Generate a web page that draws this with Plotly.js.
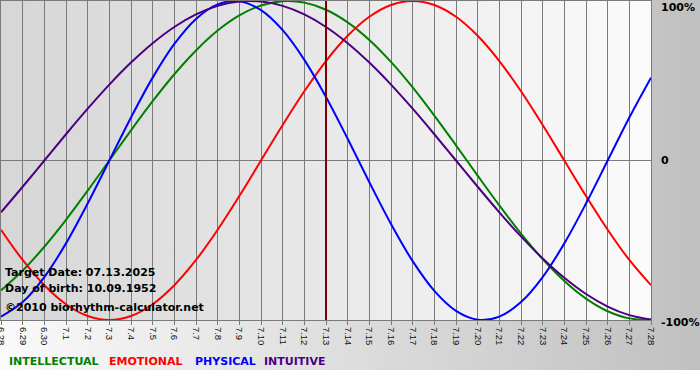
<!DOCTYPE html>
<html><head><meta charset="utf-8">
<script src="https://cdn.plot.ly/plotly-3.0.1.min.js"></script>
<style>
html,body{margin:0;padding:0;background:#fff;}
#wrap{position:relative;width:700px;height:380px;overflow:hidden;background:#fff;}
#outer{position:absolute;left:0;top:0;width:700px;height:370px;background:linear-gradient(to right,#fafafa,#c0c0c0);}
#inner{position:absolute;left:1px;top:1px;width:650px;height:319px;background:linear-gradient(to right,#d6d6d6,#fbfbfb);}
#chart{position:absolute;left:0;top:0;width:700px;height:380px;}
</style></head><body>
<div id="wrap"><div id="outer"></div><div id="inner"></div><div id="chart"></div></div>
<script>
const days = ['6.28','6.29','6.30','7.1','7.2','7.3','7.4','7.5','7.6','7.7','7.8','7.9','7.10','7.11','7.12','7.13','7.14','7.15','7.16','7.17','7.18','7.19','7.20','7.21','7.22','7.23','7.24','7.25','7.26','7.27','7.28'];
const intellectual = [-0.8146,-0.6901,-0.5406,-0.3717,-0.1893,0,0.1893,0.3717,0.5406,0.6901,0.8146,0.9096,0.9718,0.9989,0.9898,0.9450,0.8660,0.7557,0.6182,0.4582,0.2817,0.0951,-0.0951,-0.2817,-0.4582,-0.6182,-0.7557,-0.8660,-0.9450,-0.9898,-0.9989];
const emotional = [-0.4339,-0.6235,-0.7818,-0.9010,-0.9749,-1,-0.9749,-0.9010,-0.7818,-0.6235,-0.4339,-0.2225,0,0.2225,0.4339,0.6235,0.7818,0.9010,0.9749,1,0.9749,0.9010,0.7818,0.6235,0.4339,0.2225,0,-0.2225,-0.4339,-0.6235,-0.7818];
const physical = [-0.9791,-0.8879,-0.7308,-0.5196,-0.2698,0,0.2698,0.5196,0.7308,0.8879,0.9791,0.9977,0.9423,0.8170,0.6311,0.3984,0.1362,-0.1362,-0.3984,-0.6311,-0.8170,-0.9423,-0.9977,-0.9791,-0.8879,-0.7308,-0.5196,-0.2698,0,0.2698,0.5196];
const intuitive = [-0.3247,-0.1646,0,0.1646,0.3247,0.4759,0.6142,0.7357,0.8372,0.9158,0.9694,0.9966,0.9966,0.9694,0.9158,0.8372,0.7357,0.6142,0.4759,0.3247,0.1646,0,-0.1646,-0.3247,-0.4759,-0.6142,-0.7357,-0.8372,-0.9158,-0.9694,-0.9966];
const seriesNames = ['INTELLECTUAL','EMOTIONAL','PHYSICAL','INTUITIVE'];
const yTickVals = [1,0,-1];
const yTickText = ['100%','0','-100%'];
const targetDay = '7.13';
const infoLines = ['Target Date: 07.13.2025','Day of birth: 10.09.1952','©2010 biorhythm-calculator.net'];

const colors = ['#008000','#ff0000','#0000ff','#4b0082'];
const series = [intellectual, emotional, physical, intuitive];
const traces = series.map((v,i)=>({
  x: days, y: v, type:'scatter', mode:'lines', name: seriesNames[i],
  line:{color:colors[i], width:2, shape:'spline', smoothing:1}, hoverinfo:'skip'
}));

// pixel helpers (plot area: x 1..651, y 1..320)
const px = p => (p-1)/650;
const py = p => (320-p)/319;
const boldFont = {family:'DejaVu Sans', size:11, color:'#000', weight:'bold'};

const annotations = [];
yTickVals.forEach((v,i)=>{
  annotations.push({xref:'paper', yref:'y', x:1, y:v, xanchor:'left', yanchor:'middle',
    xshift:8, yshift: (i===0?-6:(i===2?-2:0)), text:yTickText[i], showarrow:false,
    font:boldFont});
});
const legendX = [7,107,193,262];
seriesNames.forEach((n,i)=>{
  annotations.push({xref:'paper', yref:'paper', x:px(legendX[i]), y:py(361), xanchor:'left', yanchor:'middle',
    text:n, showarrow:false, font:{family:'DejaVu Sans', size:11, color:colors[i], weight:'bold'}});
});
const infoY = [272,288,307];
infoLines.forEach((t,i)=>{
  annotations.push({xref:'paper', yref:'paper', x:px(3), y:py(infoY[i]), xanchor:'left', yanchor:'middle',
    text:t, showarrow:false, font:boldFont});
});

const targetIndex = days.indexOf(targetDay);
const layout = {
  width:700, height:380,
  margin:{l:1, r:49, t:1, b:60, pad:0},
  paper_bgcolor:'rgba(0,0,0,0)', plot_bgcolor:'rgba(0,0,0,0)',
  showlegend:false,
  xaxis:{type:'category', categoryarray:days, categoryorder:'array', range:[0,30],
    showgrid:true, gridcolor:'#7a7a7a', gridwidth:1,
    showline:true, mirror:true, linecolor:'#7a7a7a', linewidth:1,
    ticks:'outside', ticklen:4, tickcolor:'#7a7a7a', tickwidth:1,
    tickangle:90, tickfont:{family:'Liberation Sans', size:9.5, color:'#111'},
    zeroline:false, fixedrange:true},
  yaxis:{range:[-1,1], showgrid:false, zeroline:true, zerolinecolor:'#7a7a7a', zerolinewidth:1,
    showticklabels:false, ticks:'', showline:true, mirror:true, linecolor:'#7a7a7a', linewidth:1, fixedrange:true},
  shapes:[{type:'line', xref:'x', yref:'paper', x0:targetIndex, x1:targetIndex, y0:0, y1:1,
    line:{color:'#800000', width:2}, layer:'above'}],
  annotations: annotations
};
Plotly.newPlot('chart', traces, layout, {displayModeBar:false, staticPlot:true});
</script>
</body></html>
